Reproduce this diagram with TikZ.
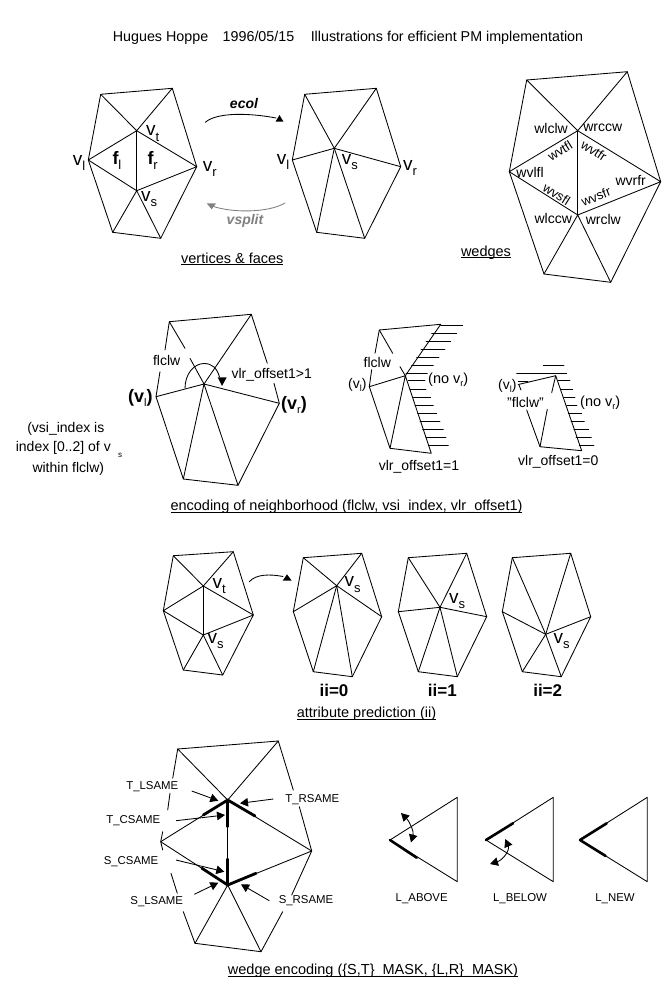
\documentclass[tikz,border=0pt]{standalone}
\usepackage{fontspec}
\setmainfont{Liberation Sans}
\usetikzlibrary{arrows.meta}
\newcommand\ulx[1]{\setbox0\hbox{#1}\rlap{\rule[-2pt]{\wd0}{0.8pt}}\box0}
\newcommand\fz[1]{\fontsize{#1}{#1}\selectfont}
\tikzset{
  mesh/.style={line width=0.85pt,line cap=round,line join=round,black},
  thick edge/.style={line width=2.8pt,line cap=round,black},
  txt/.style={inner sep=0pt,font=\fz{14}},
  wtxt/.style={inner sep=0pt,font=\fz{13}},
  caption/.style={inner sep=0pt,font=\fz{14.5}},
  small/.style={inner sep=0pt,font=\fz{11.4}},
  big/.style={anchor=base west,inner sep=0pt},
  ii/.style={inner sep=0pt,font=\fz{17}\bfseries},
  tip/.style={-{Triangle[length=8pt,width=8.5pt]},line width=0.85pt},
  tips/.style={{Triangle[length=8pt,width=8.5pt]}-{Triangle[length=8pt,width=8.5pt]},line width=0.85pt},
}
\newcommand\vlab[3]{\node[big] (#1) at (#2) {\fz{19}v\raisebox{-5.5pt}{\fz{13}#3}};}
\newcommand\flab[3]{\node[big] (#1) at (#2) {\fz{18}\bfseries f\raisebox{-5pt}{\fz{13}\mdseries #3}};}
\begin{document}
\begin{tikzpicture}[x=1pt,y=-1pt]
\useasboundingbox (0,0) rectangle (665,986);
\fill[white] (0,0) rectangle (665,986);
\node[inner sep=0pt,font=\fz{14.3}] (title) at (348,38) {Hugues Hoppe\hspace{14.5pt}1996/05/15\hspace{16.5pt}Illustrations for efficient PM implementation};

% ---- vertices & faces
\draw[mesh] (100.7,94.3)--(172.3,88.3)--(196.7,166.7)--(160.7,238.3)--(112.7,232.3)--(88.3,160)--cycle;
\draw[mesh] (100.7,94.3)--(136.7,130.7)--(172.3,88.3);
\draw[mesh] (88.3,160)--(136.7,130.7)--(196.7,166.7)--(136.7,190.7)--cycle;
\draw[mesh] (136.7,130.7)--(136.7,190.7);
\draw[mesh] (112.7,232.3)--(136.7,190.7)--(160.7,238.3);
\vlab{a1}{72.7,165}{l}
\vlab{a2}{146,135.5}{t}
\vlab{a3}{202.7,171}{r}
\vlab{a4}{141,201}{s}
\flab{a5}{112.3,164}{l}
\flab{a6}{147.3,164}{r}

\draw[mesh] (304.7,94.3)--(376.3,88.3)--(400.7,166.7)--(364.7,238.3)--(316.7,232.3)--(292.3,160)--cycle;
\foreach \p in {(304.7,94.3),(376.3,88.3),(400.7,166.7),(364.7,238.3),(316.7,232.3),(292.3,160)}
  \draw[mesh] (334.3,148.3)--\p;
\vlab{b1}{276.7,164.3}{l}
\vlab{b2}{341.7,164.3}{s}
\vlab{b3}{403,170}{r}

\draw[mesh] (205.3,122.3) .. controls (217,112) and (250,113) .. (276,118);
\fill (275.5,121.7)--(283.5,121.7)--(279.5,115)--cycle;
\draw[mesh,gray] (285,203) .. controls (268,213) and (232,213) .. (212,206);
\fill[gray] (206.7,203.3)--(216,203.3)--(211.7,209.3)--cycle;
\node[inner sep=0pt,font=\fz{14}\bfseries\itshape] (ecol) at (244,103.8) {ecol};
\node[inner sep=0pt,font=\fz{14}\bfseries\itshape,text=gray] (vsplit) at (245,221.2) {vsplit};
\node[caption] (c1) at (232.3,259) {\ulx{vertices \& faces}};

% ---- wedges
\draw[mesh] (526.7,80)--(627.3,71.7)--(660.7,181.7)--(610.7,282.3)--(544,274)--(509.3,171.7)--cycle;
\draw[mesh] (526.7,80)--(577.7,130.7)--(627.3,71.7);
\draw[mesh] (509.3,171.7)--(577.7,130.7)--(660.7,181.7)--(577.7,215)--cycle;
\draw[mesh] (577.7,130.7)--(577.7,215);
\draw[mesh] (544,274)--(577.7,215)--(610.7,282.3);
\node[txt] (w1) at (551,128.3) {wlclw};
\node[txt] (w2) at (602.7,127.3) {wrccw};
\node[wtxt,rotate=32] (w3) at (560,150.7) {wvtfl};
\node[wtxt,rotate=-33] (w4) at (594,150.7) {wvtfr};
\node[txt] (w5) at (530,172.7) {wvlfl};
\node[txt] (w6) at (630.7,180.7) {wvrfr};
\node[wtxt,rotate=-32] (w7) at (556.7,194) {wvsfl};
\node[wtxt,rotate=22] (w8) at (596,196.7) {wvsfr};
\node[txt] (w9) at (553.3,218.2) {wlccw};
\node[txt] (w10) at (603.3,219.8) {wrclw};
\node[caption] (c2) at (486,252.5) {\ulx{wedges}};

% ---- encoding of neighborhood
\draw[mesh] (169.3,321.7)--(251.3,314.3)--(267.3,363.3);
\draw[mesh] (274,383.3)--(279.3,403.3)--(238,485.3)--(183.3,479)--(156,396.7)--(160,371.7);
\draw[mesh] (165,350)--(169.3,321.7)--(185,348.3);
\draw[mesh] (190,358.3)--(204,384);
\draw[mesh] (251.3,314.3)--(204,384)--(156,396.7);
\draw[mesh] (279.3,403.3)--(204,384)--(183.3,479);
\draw[mesh] (204,384)--(238,485.3);
\draw[mesh] (185,388.3) .. controls (185,374) and (194,363.5) .. (204,363.5) .. controls (212,363.5) and (217,368) .. (219.5,377);
\fill (217.7,377.3)--(226.7,377.3)--(222,386)--cycle;
\node[txt] (e1) at (166.7,360.5) {flclw};
\node[txt] (e2) at (271.7,374.5) {vlr\_offset1>1};
\node[big] (e3) at (128,402.5) {\fz{18}\bfseries (v\raisebox{-4pt}{\fz{11}\mdseries l})};
\node[big] (e4) at (281,409) {\fz{18}\bfseries (v\raisebox{-4pt}{\fz{11}\mdseries r})};
\node[txt] (e5) at (65.8,428.8) {(vsi\_index is};
\node[txt] (e6) at (63.3,447.8) {index [0..2] of v};
\node[inner sep=0pt,font=\fz{8}] (e6b) at (120,455) {s};
\node[txt] (e7) at (68.3,468.8) {within flclw)};

% second
\draw[mesh] (375,353.3)--(379.3,330)--(440.7,324.3)--(405.3,375.7)--(369.3,386.7)--(390,448.3)--(431.3,453.3)--(405.3,375.7)--(390,448.3);
\draw[mesh] (369.3,386.7)--(371.7,369.7);
\draw[mesh] (379.3,330)--(392.7,353.3);
\draw[mesh] (400,366.7)--(405.3,375.7);
\foreach \y/\a/\b in {325/440.7/462.7,333.3/431.7/456.7,341/426/450.7,349/421/445,357.3/416.7/439,365/411.7/433.3,373.3/406/427.3,380.7/408.3/425,389.3/410/426,397.3/412.7/430.7,405.7/415/433.3,413.3/417.7/436.7,421.7/420/440,429.3/422.7/443.3,437.3/426/446,445/428.3/448.3}
  \draw[mesh] (\a,\y)--(\b,\y);
\node[txt] (f1) at (377.3,362) {flclw};
\node[big] (f2) at (348,388.5) {\fz{14}(v\raisebox{-3pt}{\fz{9}l})};
\node[big] (f3) at (428,383.3) {\fz{14.5}(no v\raisebox{-3pt}{\fz{9}r})};
\node[txt] (f4) at (419,466.5) {vlr\_offset1=1};

% third
\draw[mesh] (518.3,384.5)--(555.7,375.7)--(581.7,450.7)--(540,446.7)--(526.7,410);
\draw[mesh] (540,446.7)--(547.3,409.3);
\draw[mesh] (551.7,392.7)--(555.7,375.7);
\draw[mesh] (519,385)--(521,390);
\foreach \y/\a/\b in {365/543.3/564,373.3/516.7/566.7,380.7/558.3/570,389/561/572.7,397.3/564/575,405.7/566.7/577,413.3/568.3/581.7,421.7/571/584.3,429.3/574/588.7,437.3/576/591.3,445.7/579.3/594}
  \draw[mesh] (\a,\y)--(\b,\y);
\draw[mesh] (518.3,381)--(528,381);
\node[big] (g1) at (498,389) {\fz{14}(v\raisebox{-3pt}{\fz{9}l})};
\node[txt] (g2) at (525.5,402.2) {"flclw"};
\node[big] (g3) at (580,406.7) {\fz{14.5}(no v\raisebox{-3pt}{\fz{9}r})};
\node[txt] (g4) at (558.3,462.2) {vlr\_offset1=0};
\node[caption] (c3) at (346.5,507) {\ulx{encoding of neighborhood (flclw, vsi\_index, vlr\_offset1)}};

% ---- attribute prediction
\draw[mesh] (173.3,555.7)--(233.3,551.7)--(253.3,615)--(222.7,675)--(183.3,670)--(163.3,610.7)--cycle;
\draw[mesh] (173.3,555.7)--(203.3,586)--(233.3,551.7);
\draw[mesh] (163.3,610.7)--(203.3,586)--(253.3,615)--(203.3,635)--cycle;
\draw[mesh] (203.3,586)--(203.3,635);
\draw[mesh] (183.3,670)--(203.3,635)--(222.7,675);
\vlab{h1}{212.3,588.3}{t}
\vlab{h2}{207.3,643.3}{s}
\draw[mesh] (249.3,581.7) .. controls (256,574) and (270,574) .. (283,576.5);
\fill (282.7,580.7)--(291.7,580.7)--(287,574.3)--cycle;
\foreach \ox/\cx/\cy in {0/336.7/585.7,105/440/607.3,209/545.7/634.3}{
  \draw[mesh] (303.3+\ox,557.7)--(361.7+\ox,553.3)--(381.7+\ox,616.7)--(352.3+\ox,676.7)--(313.3+\ox,671.7)--(293.3+\ox,611.7)--cycle;
  \foreach \px/\py in {303.3/557.7,361.7/553.3,381.7/616.7,352.3/676.7,313.3/671.7,293.3/611.7}
    \draw[mesh] (\cx,\cy)--(\px+\ox,\py);
}
\vlab{h3}{344.3,586.7}{s}
\vlab{h4}{449,603.3}{s}
\vlab{h5}{553.3,643.3}{s}
\node[ii] (i0) at (334,690) {ii=0};
\node[ii] (i1) at (442.3,690) {ii=1};
\node[ii] (i2) at (547.7,690) {ii=2};
\node[caption] (c4) at (366.5,714) {\ulx{attribute prediction (ii)}};

% ---- wedge encoding
\draw[mesh] (177.7,749)--(172.7,778.3);
\draw[mesh] (170,793.3)--(167.7,810);
\draw[mesh] (177.7,749)--(278.3,741)--(293.3,790);
\draw[mesh] (299.3,806.7)--(311.7,851)--(291.7,895);
\draw[mesh] (282.7,911.7)--(261,951.7)--(195,943.3)--(183.3,911.7);
\draw[mesh] (177.3,893.3)--(171,873.3);
\draw[mesh] (162.7,850)--(160.7,841.7)--(162.7,831.7);
\draw[mesh] (177.7,749)--(227.7,800)--(278.3,741);
\draw[mesh] (160.7,841.7)--(227.7,800)--(311.7,851)--(227.7,885)--cycle;
\draw[mesh] (227.7,800)--(227.7,885);
\draw[mesh] (195,943.3)--(227.7,885)--(261,951.7);
\draw[thick edge] (227.7,800)--(203.3,815);
\draw[thick edge] (227.7,800)--(255,816);
\draw[thick edge] (227.7,800)--(227.7,826.7);
\draw[thick edge] (227.7,885)--(227.7,859);
\draw[thick edge] (227.7,885)--(202,868.3);
\draw[thick edge] (227.7,885)--(256,873.3);
\node[small] (t1) at (152.3,787) {T\_LSAME};
\node[small] (t2) at (133.3,820.3) {T\_CSAME};
\node[small] (t3) at (312.3,799.8) {T\_RSAME};
\node[small] (t4) at (131,862) {S\_CSAME};
\node[small] (t5) at (156.7,902) {S\_LSAME};
\node[small] (t6) at (306,901) {S\_RSAME};
\coordinate (tt1) at (218.3,800.7);
\coordinate (tt2) at (225,815);
\coordinate (tt3) at (240,803.3);
\coordinate (tt4) at (224.3,871.7);
\coordinate (tt5) at (218.3,882.7);
\coordinate (tt6) at (241,884.3);
\draw[tip] (191.7,791) -- (tt1);
\draw[tip] (176,820.7) -- (tt2);
\draw[tip] (273.3,799) -- (tt3);
\draw[tip] (176,860) -- (tt4);
\draw[tip] (194.3,894.3) -- (tt5);
\draw[tip] (269.3,900.7) -- (tt6);
\node[caption] (c5) at (373,971) {\ulx{wedge encoding (\{S,T\}\_MASK, \{L,R\}\_MASK)}};

\foreach \ox in {0,96,190}
  \draw[mesh] (457.3+\ox,797.3)--(390+\ox,840)--(457.3+\ox,881.7)--cycle;
\draw[thick edge,line width=2.6pt] (390,840)--(416.7,857.7);
\draw[thick edge,line width=2.6pt] (486,840)--(513,823.3);
\draw[thick edge,line width=2.6pt] (580,840)--(606.7,823.3);
\draw[thick edge,line width=2.6pt] (580,840)--(605.7,856);
\draw[tips] (401,813) .. controls (410,822) and (414,832) .. (411,842.5);
\draw[tips] (505.3,839) .. controls (510,850) and (503,860) .. (490,864);
\node[small] (n1) at (421.7,898.8) {L\_ABOVE};
\node[small] (n2) at (520,898.8) {L\_BELOW};
\node[small] (n3) at (615,898.8) {L\_NEW};
\end{tikzpicture}
\end{document}
